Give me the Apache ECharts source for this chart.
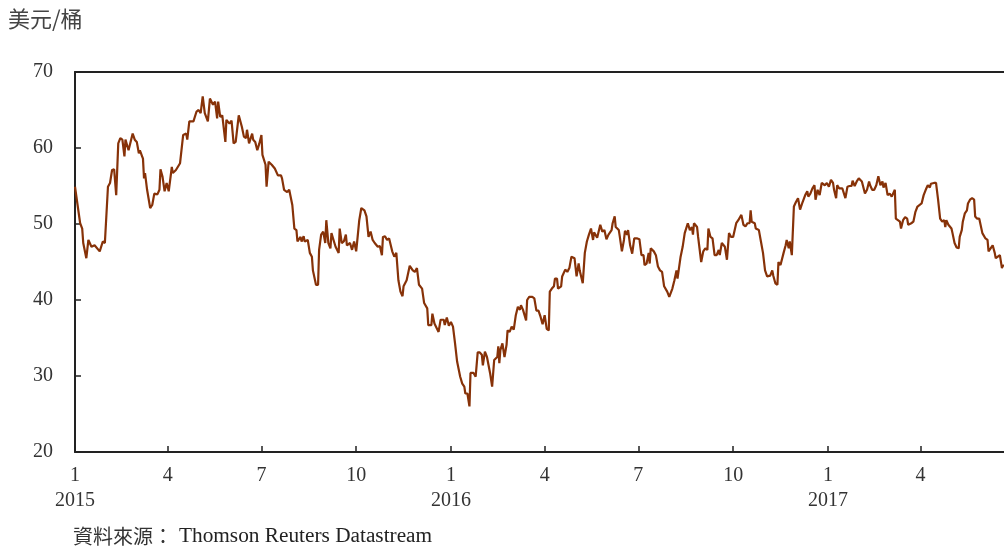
<!DOCTYPE html>
<html>
<head>
<meta charset="utf-8">
<script src="https://cdn.jsdelivr.net/npm/echarts@6/dist/echarts.min.js"></script>
<style>
  html, body { margin: 0; padding: 0; background: #fff; }
  #chart { width: 1004px; height: 547px; }
</style>
</head>
<body>
<div id="chart"></div>
<script>
// ---- Data (Brent crude, USD per barrel) ----
// Day offsets counted from 2015-01-01
const startDate = '2015-01-01';
const endDate = '2017-06-21';
const tickDates = ['2015-01-01','2015-04-01','2015-07-01','2015-10-01',
                   '2016-01-01','2016-04-01','2016-07-01','2016-10-01',
                   '2017-01-01','2017-04-01'];

const dayOffsets = [
  0,5,7,8,11,13,16,19,24,27,29,32,34,36,38,40,42,44,46,48,49,52,53,56,58,60,62,63,66,67,
  68,70,73,75,77,80,82,83,85,87,89,91,94,95,98,102,105,108,109,111,115,118,120,122,124,126,129,131,134,136,
  138,139,141,143,146,147,150,
  152,154,156,159,162,164,166,167,169,172,173,175,177,179,181,182,185,186,188,191,194,197,200,201,203,206,208,211,213,215,
  216,219,220,222,223,226,228,230,231,234,236,237,239,241,243,244,246,248,249,251,253,256,257,259,261,263,264,267,269,271,
  273,274,276,278,281,283,285,287,289,291,294,296,298,299,301,
  303,305,308,310,312,314,316,318,319,322,325,328,330,332,334,337,339,342,343,346,347,349,350,353,355,358,359,361,363,365,
  367,369,371,374,376,378,379,381,383,384,387,389,391,393,395,396,398,400,403,405,407,410,411,412,413,415,417,419,420,422,
  424,426,428,430,432,433,435,438,439,441,444,446,448,450,452,
  454,456,458,460,461,463,465,466,468,469,472,473,476,478,480,482,485,487,489,490,493,495,497,499,501,503,504,507,510,512,
  514,516,518,521,522,524,525,528,529,531,533,534,536,537,539,541,543,546,548,550,552,553,555,557,558,559,562,564,566,568,
  570,572,575,577,580,582,584,585,588,590,592,595,597,599,600,601,
  604,605,608,610,612,614,615,617,619,621,623,625,626,628,631,633,635,637,639,642,644,647,649,651,653,655,656,657,660,661,
  664,666,668,670,672,675,677,678,680,682,683,685,688,690,691,693,694,696,698,700,702,704,706,709,711,712,714,716,718,719,
  721,723,725,728,730,732,734,736,737,739,740,742,745,746,748,
  750,752,754,755,757,759,761,764,767,769,771,772,774,776,778,780,782,784,785,787,789,791,793,796,797,799,801,802,804,806,
  808,809,812,814,816,818,819,822,824,826,828,830,831,834,836,838,840,842,844,845,846,848,851,852,854,856,858,859,861,862,
  864,866,867,869,871,873,874,876,878,879,881,882,884,886,887,889,891,893,894,896,898,900,901,902
];

const brentPrices = [
  54.9,50.1,49.4,47.5,45.5,47.9,47.0,47.2,46.4,47.7,47.5,54.9,55.4,57.1,57.2,53.8,60.6,61.3,61.1,58.9,61.1,59.7,59.5,61.9,61.1,60.8,59.3,59.7,58.6,56.0,
  56.7,54.5,52.1,52.5,54.0,53.9,54.5,57.2,56.2,54.3,55.4,54.3,57.5,56.7,57.1,58.0,61.7,61.9,61.1,63.5,63.5,64.8,65.0,64.6,66.8,64.6,63.5,66.5,65.7,66.1,
  63.9,66.1,64.1,64.3,60.8,63.7,63.2,
  63.6,60.6,60.8,64.3,62.8,61.5,61.3,62.4,60.6,61.9,61.1,60.8,59.7,60.6,61.7,59.1,57.8,54.9,58.2,57.8,57.3,56.4,56.4,56.0,54.5,54.2,54.5,52.5,49.4,49.2,
  47.7,48.3,47.7,48.4,47.7,47.9,46.2,45.7,43.9,42.0,42.0,46.6,48.6,49.0,47.5,50.5,47.5,46.8,48.8,47.9,47.0,46.2,49.4,47.5,47.7,48.6,47.2,47.5,46.6,47.7,
  46.4,47.7,50.5,52.1,51.8,51.0,48.3,49.0,47.9,47.5,47.0,47.1,45.9,48.3,48.4,
  47.9,48.1,46.4,45.7,46.2,42.6,41.1,40.5,41.8,42.6,44.5,43.9,43.7,44.2,42.0,41.5,39.6,38.9,36.7,36.7,38.2,36.9,37.1,35.8,37.4,37.4,36.7,37.7,36.6,37.1,
  36.5,34.3,31.9,29.9,29.0,28.6,27.7,27.7,26.0,30.4,30.4,29.9,33.1,33.1,32.8,31.4,33.2,32.5,30.4,28.6,32.1,32.5,33.9,31.7,33.4,34.3,32.5,34.1,36.0,35.8,
  36.5,36.1,38.0,39.1,38.7,39.3,38.7,37.3,40.0,40.4,40.4,40.2,38.6,38.6,37.8,
  36.8,38.0,36.2,36.0,41.1,41.5,41.8,42.8,42.8,41.5,41.8,43.1,44.0,43.7,44.2,45.7,45.5,43.1,44.8,43.9,42.2,46.2,47.7,48.6,49.4,47.9,48.9,48.2,49.9,49.0,
  49.2,48.0,48.6,49.2,50.1,51.0,49.6,49.2,48.3,46.4,47.9,49.1,48.6,49.2,47.2,46.1,48.1,48.1,48.0,45.9,45.9,44.6,44.8,46.2,44.8,46.8,46.4,45.9,44.4,43.9,
  43.7,41.8,41.1,40.4,41.5,42.6,43.9,42.8,45.7,47.0,48.8,50.1,49.2,49.6,48.6,50.1,
  49.6,48.3,45.0,46.4,46.8,46.6,49.4,48.3,48.1,45.9,45.9,46.6,45.9,47.5,47.0,45.3,48.8,48.3,48.3,50.1,50.5,51.2,49.9,49.7,50.1,50.1,51.8,50.3,50.1,49.4,
  49.2,47.7,46.2,43.9,43.1,43.2,43.9,43.2,42.2,42.0,45.0,44.6,46.2,47.2,47.9,46.8,47.7,45.9,52.3,52.9,53.4,51.9,52.7,53.8,54.3,53.6,54.0,54.7,55.1,53.2,
  54.5,53.8,55.4,55.1,55.4,54.9,55.8,55.4,54.5,53.4,55.1,54.7,54.7,54.5,53.4,
  54.9,55.0,55.0,55.7,55.0,55.6,56.0,55.6,54.0,54.5,55.6,55.1,54.5,54.5,55.1,56.3,55.1,55.6,54.8,55.4,53.8,54.0,53.6,54.5,50.7,50.5,50.3,49.4,50.5,50.9,
  50.7,49.9,50.1,50.3,51.6,52.3,52.1,52.7,53.8,54.5,55.1,54.8,55.3,55.4,55.4,53.2,50.7,50.3,50.5,49.6,50.5,49.9,49.4,48.8,47.5,46.9,46.8,48.3,49.2,50.3,
  51.4,51.8,52.7,53.2,53.4,53.2,51.0,50.7,50.7,50.7,48.8,48.6,48.1,47.9,46.4,46.8,47.2,46.2,45.5,45.7,45.9,44.2,44.6,44.4
];

const yMin = 20, yMax = 70, yStep = 10;
const unitLabel = '美元/桶';
const sourceCjk = '資料來源：';
const sourceLatin = 'Thomson Reuters Datastream';

// ---- Helpers ----
const DAY = 86400000;
const t0 = Date.parse(startDate + 'T00:00:00Z');
const toDay = s => Math.round((Date.parse(s + 'T00:00:00Z') - t0) / DAY);
const tickDays = tickDates.map(toDay);
const maxDay = toDay(endDate);
const seriesData = dayOffsets.map((d, i) => [d, brentPrices[i]]);

const serif = "'Liberation Serif', 'Times New Roman', serif";
const cjkFont = "'Noto Sans CJK TC', sans-serif";
const axisColor = '#222';

const chart = echarts.init(document.getElementById('chart'), null, { renderer: 'canvas' });
chart.setOption({
  animation: false,
  backgroundColor: '#fff',
  grid: { left: 75, right: 0, top: 72, bottom: 95, containLabel: false },
  xAxis: [{
    type: 'value',
    min: 0,
    max: maxDay,
    axisLine: { show: true, onZero: false, lineStyle: { color: axisColor, width: 2 } },
    axisTick: { show: true, inside: true, length: 6, customValues: tickDays, lineStyle: { color: axisColor, width: 1.5 } },
    axisLabel: {
      show: true,
      customValues: tickDays,
      margin: 11,
      color: '#333',
      fontFamily: serif,
      fontSize: 20,
      lineHeight: 25,
      formatter: v => {
        const d = new Date(t0 + v * DAY);
        const m = d.getUTCMonth() + 1;
        return m === 1 ? m + '\n' + d.getUTCFullYear() : String(m);
      }
    },
    splitLine: { show: false }
  }, {
    type: 'value',
    position: 'top',
    min: 0,
    max: maxDay,
    axisLine: { show: true, onZero: false, lineStyle: { color: axisColor, width: 2 } },
    axisTick: { show: false },
    axisLabel: { show: false },
    splitLine: { show: false }
  }],
  yAxis: {
    type: 'value',
    min: yMin,
    max: yMax,
    interval: yStep,
    axisLine: { show: true, onZero: false, lineStyle: { color: axisColor, width: 2 } },
    axisTick: { show: true, inside: true, length: 6, lineStyle: { color: axisColor, width: 1.5 } },
    axisLabel: { margin: 22, color: '#333', fontFamily: serif, fontSize: 20 },
    splitLine: { show: false }
  },
  series: [{
    type: 'line',
    data: seriesData,
    showSymbol: false,
    symbol: 'none',
    lineStyle: { color: '#873208', width: 2.2 },
    clip: true
  }],
  graphic: [
    { type: 'text', left: 8, top: 8, style: { text: unitLabel, fontFamily: cjkFont, fontSize: 22, fill: '#444' } },
    { type: 'text', left: 73, top: 526, style: {
        text: '{c|' + sourceCjk + '}{e|' + sourceLatin + '}',
        rich: {
          c: { fontFamily: cjkFont, fontSize: 20, fill: '#333', lineHeight: 24 },
          e: { fontFamily: serif, fontSize: 21.3, fill: '#222', lineHeight: 24, padding: [0, 0, 0, 6] }
        }
      } }
  ]
});
</script>
</body>
</html>
